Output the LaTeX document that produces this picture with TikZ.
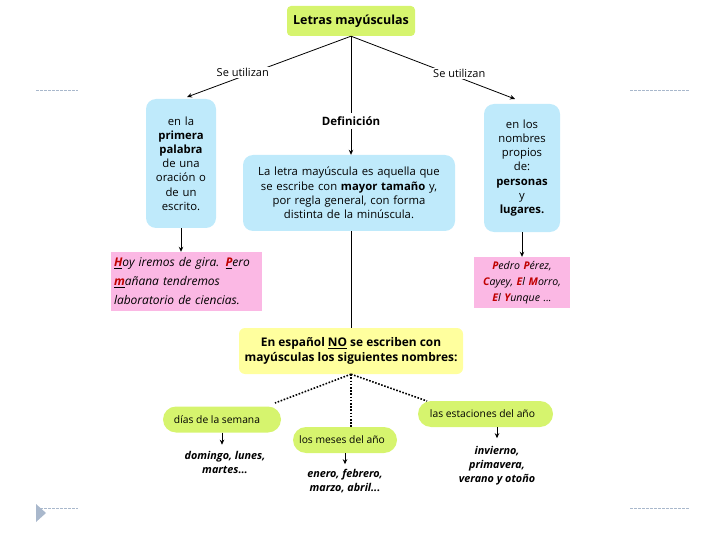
\documentclass[tikz,border=0pt]{standalone}
\usepackage{fontspec}
\setmainfont{Open Sans}
\usetikzlibrary{arrows.meta}
\definecolor{cLime}{HTML}{D6F46E}
\definecolor{cBlue}{HTML}{BFEAFB}
\definecolor{cPink}{HTML}{FBB8E4}
\definecolor{cYellow}{HTML}{FFFF9E}
\definecolor{cRed}{HTML}{C00000}
\definecolor{cDeco}{HTML}{A9B8CC}
\newcommand{\redu}[1]{\underline{\textcolor{cRed}{\textbf{#1}}}}
\newcommand{\redl}[1]{\textcolor{cRed}{\textbf{#1}}}
\begin{document}
\begin{tikzpicture}[x=1pt,y=-1pt,
  conn/.style={draw=black, line width=0.8pt},
  arr/.style={conn, -{Stealth[length=5pt,width=4.5pt]}},
  dots/.style={draw=black, line width=1.6pt, dash pattern=on 1.6pt off 1.6pt},
  lbl/.style={fill=white, inner sep=1pt, font=\fontsize{11}{13}\selectfont},
  titlebox/.style={fill=cLime, rounded corners=4pt, minimum width=128pt, minimum height=30pt, font=\fontsize{12.5}{14}\selectfont\bfseries},
  bluebox/.style={fill=cBlue, rounded corners=10pt, align=center, inner sep=1pt, font=\fontsize{11.3}{14.2}\selectfont},
  pinkbox/.style={fill=cPink, inner sep=2pt, font=\fontsize{12}{19}\selectfont\itshape},
  yellowbox/.style={fill=cYellow, rounded corners=6pt, minimum width=224pt, minimum height=46pt, inner sep=2pt, align=center, font=\fontsize{11.9}{15.5}\selectfont\bfseries},
  pill/.style={fill=cLime, rounded corners=13pt, minimum height=26pt, inner sep=2pt, font=\fontsize{10.3}{12}\selectfont},
  example/.style={align=center, font=\fontsize{10.8}{14}\selectfont\bfseries\itshape},
  deco/.style={draw=cDeco, line width=0.6pt, dash pattern=on 2.5pt off 1.5pt}
]
\useasboundingbox (0,0) rectangle (720,540);

% decorations
\draw[deco] (36,90) -- (78,90);
\draw[deco] (630,90) -- (690,90);
\draw[deco] (36,508) -- (78,508);
\draw[deco] (630,508) -- (690,508);
\fill[cDeco] (36,504) -- (46,513) -- (36,522) -- cycle;

% nodes
\node[titlebox] (title) at (351,21) {Letras mayúsculas};

\node[bluebox, minimum width=70pt, minimum height=129pt, text width=68pt] (lb) at (181,163.5)
  {en la\\ \textbf{primera}\\ \textbf{palabra}\\ de una\\ oración o\\ de un\\ escrito.\\[5pt]};

\node[font=\fontsize{11.5}{13}\selectfont\bfseries] (def) at (351,121) {Definición};

\node[bluebox, minimum width=212pt, minimum height=76pt, text width=210pt] (cb) at (349,193)
  {La letra mayúscula es aquella que\\ se escribe con \textbf{mayor tamaño} y,\\ por regla general, con forma\\ distinta de la minúscula.\\[2pt]};

\node[bluebox, minimum width=76pt, minimum height=128pt, text width=74pt] (rb) at (522,168)
  {en los\\ nombres\\ propios\\ de:\\ \textbf{personas}\\ y\\ \textbf{lugares.}\\[5pt]};

\node[pinkbox, minimum width=151pt, minimum height=59pt, text width=145pt, align=left] (lp) at (186.5,281.5)
  {\redu{H}oy iremos de gira. \redu{P}ero\\ \redu{m}añana tendremos\\ laboratorio de ciencias.};

\node[pinkbox, minimum width=94pt, minimum height=51pt, text width=92pt, align=center, font=\fontsize{10.6}{16}\selectfont\itshape] (rp) at (522,282.5)
  {\redl{P}edro \redl{P}érez,\\ \redl{C}ayey, \redl{E}l \redl{M}orro,\\ \redl{E}l \redl{Y}unque ...};

\node[yellowbox] (yb) at (351,351)
  {En español \underline{NO} se escriben con\\ mayúsculas los siguientes nombres:};

\node[pill, minimum width=118pt] (dias) at (222,419.5) {días de la semana\hspace*{10pt}};
\node[pill, minimum width=104pt] (meses) at (345,440) {los meses del año\hspace*{6pt}};
\node[pill, minimum width=135pt] (est) at (485.5,414) {las estaciones del año\hspace*{6pt}};

\node[example] (exd) at (225,462) {domingo, lunes,\\ martes...};
\node[example] (exm) at (345,481) {enero, febrero,\\ marzo, abril...};
\node[example] (exe) at (497,466) {invierno,\\ primavera,\\ verano y otoño};

% connectors
\coordinate (ltip) at (187,97);
\coordinate (rtip) at (515,99);
\draw[arr] (title.south) -- node[lbl, pos=0.66, yshift=4pt] {Se utilizan} (ltip);
\draw[arr] (title.south) -- node[lbl, pos=0.66, yshift=4pt] {Se utilizan} (rtip);
\draw[conn] (title.south) -- (def.north);
\draw[arr] (def.south) -- (def.south |- cb.north);
\draw[conn] (cb.south -| yb.north) -- (yb.north);
\draw[arr] (lb.south) -- (lb.south |- lp.north);
\draw[arr] (rb.south) -- (rp.north);

\draw[dots] (yb.south) -- (275,403);
\draw[dots] (yb.south) -- (meses.north -| yb.south);
\draw[dots] (yb.south) -- (427,401);

\draw[arr] (dias.south) -- ++(0,12);
\draw[arr] (meses.south) -- ++(0,11);
\draw[arr] (est.south -| 497,0) -- ++(0,11);
\end{tikzpicture}
\end{document}
